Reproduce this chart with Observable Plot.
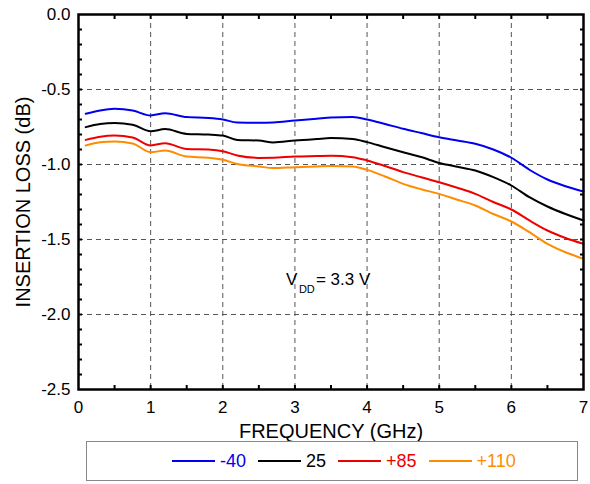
<!DOCTYPE html>
<html><head><meta charset="utf-8">
<script src="https://cdn.jsdelivr.net/npm/d3@7"></script>
<script src="https://cdn.jsdelivr.net/npm/@observablehq/plot@0.6"></script>
<style>
body{margin:0;background:#fff;font-family:"Liberation Sans",Arial,sans-serif;}
#wrap{position:relative;width:590px;height:484px;}
#chart svg{display:block;}
#legend{position:absolute;left:86px;top:441px;width:492px;height:40px;border:1px solid #888;display:flex;align-items:center;padding-left:85px;box-sizing:border-box;font-size:18px;background:#fff;}
.item{display:flex;align-items:center;margin-right:12px;}
.swatch{width:43px;height:2px;margin-right:5px;}
</style></head>
<body><div id="wrap"><div id="chart"></div><div id="legend"></div></div>
<script>
const freq    = [0.1, 0.3, 0.5, 0.75, 1.0, 1.2, 1.5, 1.8, 2.0, 2.2, 2.5, 2.7, 3.0, 3.3, 3.5, 3.8, 4.0, 4.25, 4.5, 4.75, 5.0, 5.25, 5.5, 5.75, 6.0, 6.25, 6.5, 6.75, 7.0];
const lossM40 = [-0.662,-0.640,-0.629,-0.640,-0.673,-0.658,-0.684,-0.690,-0.700,-0.720,-0.722,-0.720,-0.707,-0.695,-0.686,-0.684,-0.700,-0.730,-0.762,-0.790,-0.818,-0.840,-0.862,-0.900,-0.955,-1.035,-1.100,-1.145,-1.180];
const loss25  = [-0.751,-0.730,-0.724,-0.735,-0.778,-0.764,-0.796,-0.800,-0.807,-0.836,-0.840,-0.853,-0.840,-0.830,-0.824,-0.830,-0.851,-0.885,-0.918,-0.950,-0.990,-1.015,-1.040,-1.084,-1.140,-1.218,-1.280,-1.330,-1.373];
const loss85  = [-0.836,-0.815,-0.807,-0.820,-0.873,-0.858,-0.896,-0.900,-0.911,-0.940,-0.956,-0.955,-0.947,-0.944,-0.942,-0.951,-0.973,-1.010,-1.051,-1.085,-1.118,-1.155,-1.196,-1.250,-1.300,-1.373,-1.440,-1.490,-1.529];
const loss110 = [-0.873,-0.852,-0.847,-0.860,-0.918,-0.907,-0.947,-0.955,-0.969,-0.996,-1.013,-1.024,-1.018,-1.013,-1.010,-1.013,-1.036,-1.080,-1.129,-1.165,-1.196,-1.235,-1.273,-1.330,-1.380,-1.451,-1.529,-1.585,-1.629];
const seriesNames  = ["-40", "25", "+85", "+110"];
const seriesColors = ["#0000ee", "#000000", "#ee0000", "#ff8c00"];
const seriesValues = [lossM40, loss25, loss85, loss110];
const xTicks = [0, 1, 2, 3, 4, 5, 6, 7];
const yTicks = [0, -0.5, -1.0, -1.5, -2.0, -2.5];
const xGrid  = [1, 2, 3, 4, 5, 6];
const yGrid  = [-0.5, -1.0, -1.5, -2.0];
const xMinor = [0.5, 1, 1.5, 2, 2.5, 3, 3.5, 4, 4.5, 5, 5.5, 6, 6.5];
const yMinor = [-0.1,-0.2,-0.3,-0.4,-0.5,-0.6,-0.7,-0.8,-0.9,-1.0,-1.1,-1.2,-1.3,-1.4,-1.5,-1.6,-1.7,-1.8,-1.9,-2.0,-2.1,-2.2,-2.3,-2.4];
const xLabel = "FREQUENCY (GHz)";
const yLabel = "INSERTION LOSS (dB)";
const note = [{x: 2.875, y: -1.77, main: "V", sub: "DD", rest: "= 3.3 V"}];

const rows = [];
seriesNames.forEach((name, i) => freq.forEach((f, j) => rows.push({series: name, f, v: seriesValues[i][j]})));

const font = "'Liberation Sans', Arial, sans-serif";
const noFmt = () => "";
const chart = Plot.plot({
  width: 590, height: 448,
  marginLeft: 78, marginRight: 7, marginTop: 14, marginBottom: 59,
  style: {fontFamily: font, fontSize: "17px", color: "#000", background: "transparent"},
  x: {domain: [0, 7]},
  y: {domain: [-2.5, 0]},
  color: {domain: seriesNames, range: seriesColors},
  marks: [
    Plot.ruleX(xGrid, {stroke: "#555", strokeDasharray: "5,4", strokeWidth: 1}),
    Plot.ruleY(yGrid, {stroke: "#555", strokeDasharray: "5,4", strokeWidth: 1}),
    Plot.line(rows, {x: "f", y: "v", z: "series", stroke: "series", strokeWidth: 2, curve: "monotone-x"}),
    Plot.axisX(xMinor, {anchor: "bottom", tickSize: -4, tickFormat: noFmt, label: null, strokeWidth: 2}),
    Plot.axisX(xMinor, {anchor: "top", tickSize: -4, tickFormat: noFmt, label: null, strokeWidth: 2}),
    Plot.axisY(yMinor, {anchor: "left", tickSize: -4, tickFormat: noFmt, label: null, strokeWidth: 2}),
    Plot.axisY(yMinor, {anchor: "right", tickSize: -4, tickFormat: noFmt, label: null, strokeWidth: 2}),
    Plot.axisX(xTicks, {anchor: "bottom", tickSize: 0, tickPadding: 11, label: null, fontSize: 17, tickFormat: d => String(d)}),
    Plot.axisY(yTicks, {anchor: "left", tickSize: 0, tickPadding: 8, label: null, fontSize: 17, tickFormat: d => d.toFixed(1)}),
    Plot.frame({stroke: "#000", strokeWidth: 2.5}),
    Plot.text([xLabel], {frameAnchor: "bottom", lineAnchor: "middle", textAnchor: "middle", dy: 42, text: d => d, fontSize: 20}),
    Plot.text([yLabel], {frameAnchor: "left", lineAnchor: "middle", textAnchor: "middle", dx: -55, rotate: -90, text: d => d, fontSize: 20}),
    Plot.text(note, {x: "x", y: "y", text: "main", textAnchor: "start", fontSize: 17}),
    Plot.text(note, {x: "x", y: "y", text: "sub", textAnchor: "start", fontSize: 11, dx: 13, dy: 9}),
    Plot.text(note, {x: "x", y: "y", text: "rest", textAnchor: "start", fontSize: 17, dx: 30})
  ]
});
document.getElementById("chart").appendChild(chart);

const legend = document.getElementById("legend");
seriesNames.forEach((name, i) => {
  const item = document.createElement("div");
  item.className = "item";
  const sw = document.createElement("span");
  sw.className = "swatch";
  sw.style.background = seriesColors[i];
  const label = document.createElement("span");
  label.textContent = name;
  label.style.color = seriesColors[i];
  item.appendChild(sw); item.appendChild(label);
  legend.appendChild(item);
});
</script></body></html>
